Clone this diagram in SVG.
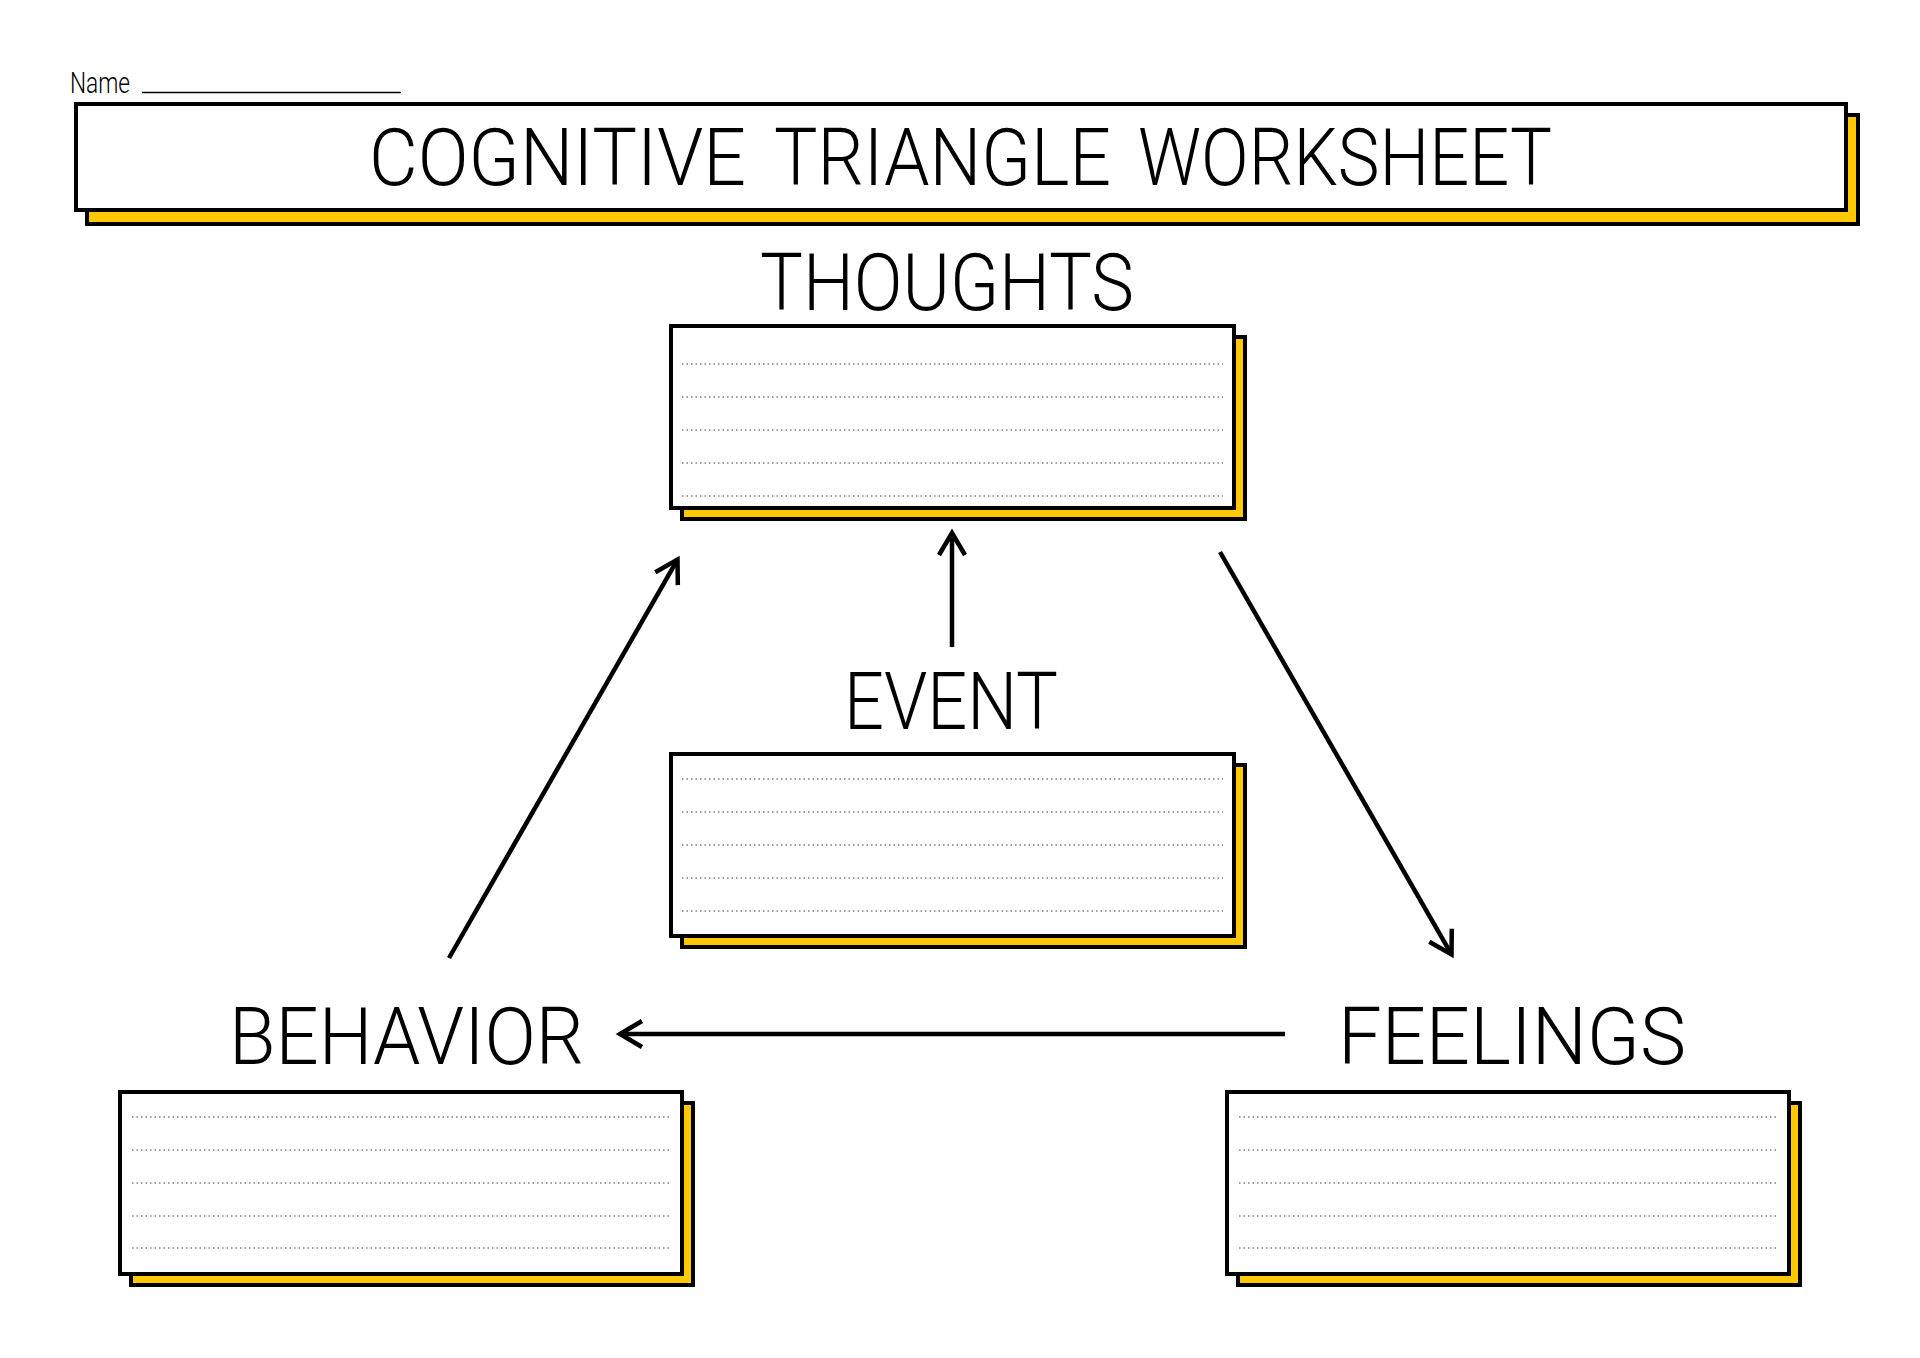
<svg xmlns="http://www.w3.org/2000/svg" width="1920" height="1358" viewBox="0 0 1920 1358">
<style>
.lbl{font-family:Roboto,"Liberation Sans",sans-serif;font-weight:300;fill:#000}
.box{fill:#fff;stroke:#000;stroke-width:4}
.shadow{fill:#FFC800;stroke:#000;stroke-width:4}
.dots{stroke:#808080;stroke-width:1.4;stroke-dasharray:1.5 3;fill:none}
.conn{stroke:#000;stroke-width:4.5;fill:none}
</style>
<defs>
<marker id="arr" markerUnits="userSpaceOnUse" viewBox="-30 -20 40 40" markerWidth="40" markerHeight="40" refX="0" refY="0" orient="auto" overflow="visible">
<path d="M-22,-13 L0,0 L-22,13" fill="none" stroke="#000" stroke-width="4.5" stroke-linejoin="miter"/>
</marker>
</defs>
<rect width="1920" height="1358" fill="#fff"/>

<g id="name">
<text class="lbl" x="70" y="93" font-size="30" textLength="60" lengthAdjust="spacingAndGlyphs">Name</text>
<line x1="142" y1="92.5" x2="401" y2="92.5" stroke="#000" stroke-width="1.5"/>
</g>

<g id="title">
<rect class="shadow" x="87" y="115" width="1771" height="109"/>
<rect class="box" x="76" y="104" width="1770" height="106"/>
<text class="lbl" font-size="80" y="185"><tspan x="369" textLength="377" lengthAdjust="spacingAndGlyphs">COGNITIVE</tspan></text>
<text class="lbl" font-size="80" y="185"><tspan x="774" textLength="337" lengthAdjust="spacingAndGlyphs">TRIANGLE</tspan></text>
<text class="lbl" font-size="80" y="185"><tspan x="1138" textLength="414" lengthAdjust="spacingAndGlyphs">WORKSHEET</tspan></text>
</g>

<g id="thoughts">
<text class="lbl" x="760" y="310" font-size="80" textLength="374" lengthAdjust="spacingAndGlyphs">THOUGHTS</text>
<rect class="shadow" x="682" y="337" width="563" height="182"/>
<rect class="box" x="671" y="326" width="563" height="182"/>
<g class="dots">
<line x1="682" y1="364" x2="1223" y2="364"/>
<line x1="682" y1="397" x2="1223" y2="397"/>
<line x1="682" y1="430" x2="1223" y2="430"/>
<line x1="682" y1="463" x2="1223" y2="463"/>
<line x1="682" y1="496" x2="1223" y2="496"/>
</g>
</g>

<g id="event">
<text class="lbl" x="844" y="729" font-size="80" textLength="214" lengthAdjust="spacingAndGlyphs">EVENT</text>
<rect class="shadow" x="682" y="765" width="563" height="182"/>
<rect class="box" x="671" y="754" width="563" height="182"/>
<g class="dots">
<line x1="682" y1="779" x2="1223" y2="779"/>
<line x1="682" y1="812" x2="1223" y2="812"/>
<line x1="682" y1="845" x2="1223" y2="845"/>
<line x1="682" y1="878" x2="1223" y2="878"/>
<line x1="682" y1="911" x2="1223" y2="911"/>
</g>
</g>

<g id="behavior">
<text class="lbl" x="229" y="1064" font-size="80" textLength="355" lengthAdjust="spacingAndGlyphs">BEHAVIOR</text>
<rect class="shadow" x="131" y="1103" width="562" height="182"/>
<rect class="box" x="120" y="1092" width="562" height="182"/>
<g class="dots">
<line x1="132" y1="1117" x2="671" y2="1117"/>
<line x1="132" y1="1150" x2="671" y2="1150"/>
<line x1="132" y1="1183" x2="671" y2="1183"/>
<line x1="132" y1="1216" x2="671" y2="1216"/>
<line x1="132" y1="1248" x2="671" y2="1248"/>
</g>
</g>

<g id="feelings">
<text class="lbl" x="1338" y="1064" font-size="80" textLength="348" lengthAdjust="spacingAndGlyphs">FEELINGS</text>
<rect class="shadow" x="1238" y="1103" width="562" height="182"/>
<rect class="box" x="1227" y="1092" width="562" height="182"/>
<g class="dots">
<line x1="1239" y1="1117" x2="1778" y2="1117"/>
<line x1="1239" y1="1150" x2="1778" y2="1150"/>
<line x1="1239" y1="1183" x2="1778" y2="1183"/>
<line x1="1239" y1="1216" x2="1778" y2="1216"/>
<line x1="1239" y1="1248" x2="1778" y2="1248"/>
</g>
</g>

<g id="connectors">
<line class="conn" x1="952" y1="647" x2="952" y2="533" marker-end="url(#arr)"/>
<line class="conn" x1="449" y1="958" x2="677.5" y2="559.6" marker-end="url(#arr)"/>
<line class="conn" x1="1220" y1="552" x2="1451.5" y2="954.4" marker-end="url(#arr)"/>
<line class="conn" x1="1285" y1="1034" x2="620" y2="1034" marker-end="url(#arr)"/>
</g>
</svg>
